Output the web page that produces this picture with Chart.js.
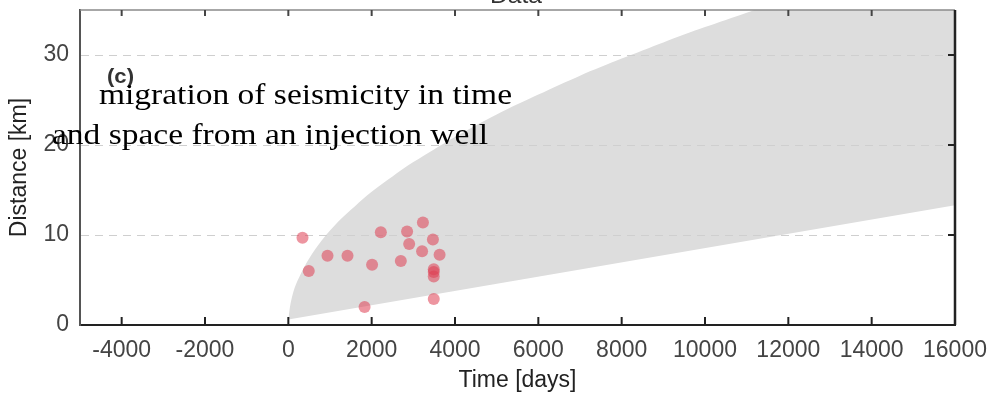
<!DOCTYPE html>
<html>
<head>
<meta charset="utf-8">
<script src="https://cdn.jsdelivr.net/npm/chart.js@4"></script>
<style>
  html, body { margin: 0; padding: 0; background: #fff; }
  #wrap { width: 992px; height: 398px; }
</style>
</head>
<body>
<div id="wrap"><canvas id="migration"></canvas></div>
<script>
// seismic events: time since injection start [days] and distance from well [km]
var quakeDays = [340, 490, 940, 1420, 1830, 2010, 2220, 2700, 2850, 2900, 3210, 3230, 3470, 3490, 3490, 3490, 3490, 3630];
var quakeDist = [9.7, 6.0, 7.7, 7.7, 2.0, 6.7, 10.3, 7.1, 10.4, 9.0, 8.2, 11.4, 9.5, 6.2, 5.9, 5.4, 2.9, 7.8];

// envelope of the triggering front (grey band)
var bandDays  = [0, 50, 150, 300, 500, 800, 1200, 1600, 2000, 2500, 3000, 4000, 5000, 6000, 7000, 8000, 9000, 10000, 11000, 12000, 13000, 14000, 15000, 16000];
var bandUpper = [0.6, 2.3, 4.1, 5.7, 7.4, 9.4, 11.5, 13.2, 14.8, 16.5, 18.1, 20.9, 23.4, 25.6, 27.7, 29.6, 31.4, 33.1, 34.7, 36.3, 37.7, 39.2, 40.5, 41.9];
var bandLower = [0.6, 1.5, 2.2, 2.7, 3.0, 3.5, 4.1, 4.6, 5.0, 5.4, 5.8, 6.7, 7.4, 8.0, 8.7, 9.4, 10.0, 10.6, 11.1, 11.6, 12.1, 12.5, 12.9, 13.3];

var xTicks = [-4000, -2000, 0, 2000, 4000, 6000, 8000, 10000, 12000, 14000, 16000];
var yTicks = [0, 10, 20, 30];

var sans = '"Liberation Sans", Arial, sans-serif';

function pts(xs, ys) {
  return xs.map(function (x, i) { return { x: x, y: ys[i] }; });
}

// draw a line of text squeezed/stretched to a given width
function fitText(c, txt, x, y, w) {
  var m = c.measureText(txt).width;
  c.save();
  c.translate(x, y);
  c.scale(w / m, 1);
  c.fillText(txt, 0, 0);
  c.restore();
}

var frame = {
  id: 'frame',
  afterDatasetsDraw: function (chart) {
    var c = chart.ctx, a = chart.chartArea;
    var xs = chart.scales.x, ys = chart.scales.y;
    c.save();
    // top and right box lines
    c.strokeStyle = '#8a8a8a';
    c.lineWidth = 1.5;
    c.beginPath(); c.moveTo(a.left, a.top); c.lineTo(a.right, a.top); c.stroke();
    c.strokeStyle = '#222';
    c.lineWidth = 2.5;
    c.beginPath(); c.moveTo(a.right, a.top); c.lineTo(a.right, a.bottom); c.stroke();
    // inward tick marks
    c.lineWidth = 2;
    xs.ticks.forEach(function (t) {
      var px = xs.getPixelForValue(t.value);
      if (px >= a.right - 1) return;
      c.strokeStyle = '#222';
      c.beginPath(); c.moveTo(px, a.bottom); c.lineTo(px, a.bottom - 8); c.stroke();
      c.strokeStyle = '#444';
      c.beginPath(); c.moveTo(px, a.top); c.lineTo(px, a.top + 6); c.stroke();
    });
    c.strokeStyle = '#222';
    ys.ticks.forEach(function (t) {
      if (t.value === 0) return;
      var py = ys.getPixelForValue(t.value);
      c.beginPath(); c.moveTo(a.right, py); c.lineTo(a.right - 7, py); c.stroke();
    });
    c.restore();
  },
  afterDraw: function (chart) {
    var c = chart.ctx;
    c.save();
    c.fillStyle = '#333';
    c.font = '22px ' + sans;
    c.textAlign = 'left';
    c.textBaseline = 'alphabetic';
    fitText(c, 'Data', 490, 3, 52);
    c.font = 'bold 20px ' + sans;
    fitText(c, '(c)', 107, 83, 27);
    c.fillStyle = '#000';
    c.font = '29px "Liberation Serif", "DejaVu Serif", serif';
    fitText(c, 'migration of seismicity in time', 99, 104, 413);
    fitText(c, 'and space from an injection well', 52, 144, 436);
    c.restore();
  }
};

var ctx = document.getElementById('migration').getContext('2d');
var migrationChart = new Chart(ctx, {
  type: 'scatter',
  data: {
    datasets: [
      {
        label: 'events',
        data: pts(quakeDays, quakeDist),
        backgroundColor: 'rgba(222,62,82,0.55)',
        borderWidth: 0,
        pointRadius: 6
      },
      {
        label: 'lower',
        data: pts(bandDays, bandLower),
        showLine: true,
        pointRadius: 0,
        borderWidth: 0,
        borderColor: 'rgba(0,0,0,0)',
        tension: 0.3,
        fill: false
      },
      {
        label: 'upper',
        data: pts(bandDays, bandUpper),
        showLine: true,
        pointRadius: 0,
        borderWidth: 0,
        borderColor: 'rgba(0,0,0,0)',
        backgroundColor: '#dddddd',
        tension: 0.3,
        fill: '-1'
      }
    ]
  },
  options: {
    responsive: true,
    maintainAspectRatio: false,
    animation: false,
    layout: { padding: { top: 10, right: 37, left: 0, bottom: 0 } },
    plugins: {
      legend: { display: false },
      tooltip: { enabled: false },
      filler: { drawTime: 'beforeDraw' }
    },
    scales: {
      x: {
        type: 'linear',
        min: -5000,
        max: 16000,
        afterBuildTicks: function (s) { s.ticks = xTicks.map(function (v) { return { value: v }; }); },
        afterFit: function (s) { s.height = 73; s.paddingLeft = 0; s.paddingRight = 0; },
        grid: { display: false, drawTicks: false },
        border: { color: '#222', width: 2 },
        ticks: {
          padding: 12,
          color: '#444',
          maxRotation: 0,
          callback: function (v) { return String(v); },
          font: { family: sans, size: 23 }
        },
        title: {
          display: true,
          text: 'Time [days]',
          color: '#222',
          padding: { top: 0, bottom: 4 },
          font: { family: sans, size: 23 }
        }
      },
      y: {
        type: 'linear',
        min: 0,
        max: 35,
        afterBuildTicks: function (s) { s.ticks = yTicks.map(function (v) { return { value: v }; }); },
        afterFit: function (s) { s.width = 80; s.paddingTop = 0; s.paddingBottom = 0; },
        grid: {
          drawTicks: false,
          color: function (c) { return c.tick && c.tick.value === 0 ? 'rgba(0,0,0,0)' : '#cfcfcf'; },
          lineWidth: 1
        },
        border: { color: '#555', width: 2, dash: [8, 6] },
        ticks: {
          padding: 11,
          color: '#444',
          callback: function (v) { return String(v); },
          font: { family: sans, size: 23 }
        },
        title: {
          display: true,
          text: 'Distance [km]',
          color: '#222',
          padding: { top: 6, bottom: 0 },
          font: { family: sans, size: 23 }
        }
      }
    }
  },
  plugins: [frame]
});
</script>
</body>
</html>
